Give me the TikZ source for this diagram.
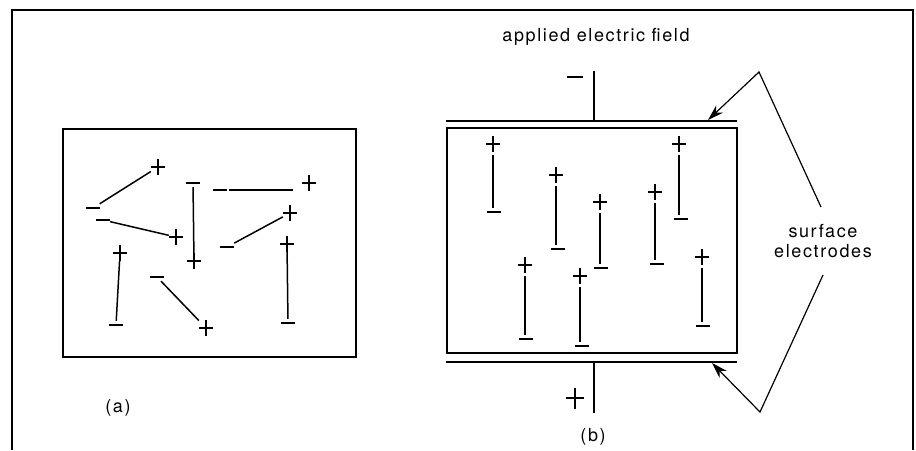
\documentclass[tikz,border=0pt]{standalone}
\usepackage{fontspec}
\setmainfont[LetterSpace=9]{TeX Gyre Heros}
\usetikzlibrary{arrows.meta}
\tikzset{
  pl/.style={inner sep=0pt, minimum width=14pt, minimum height=16pt,
    path picture={\draw[line width=2.4pt] (path picture bounding box.west) -- (path picture bounding box.east)
      (path picture bounding box.north) -- (path picture bounding box.south);}},
  mn/.style={inner sep=0pt, minimum width=14pt, minimum height=8pt,
    path picture={\draw[line width=2.2pt] (path picture bounding box.west) -- (path picture bounding box.east);}},
  dip/.style={line width=1.5pt},
  boxline/.style={line width=2pt},
  lbl/.style={font=\fontsize{18}{22}\selectfont, align=center, inner sep=1pt},
  ptr/.style={line width=1.2pt, -{Stealth[length=16pt,width=10pt]}},
}
\begin{document}
\begin{tikzpicture}[x=1pt,y=-1pt]
\useasboundingbox (0,0) rectangle (916,450);
% outer frame
\draw[line width=2pt] (12,450) -- (12,10) -- (913,10) -- (913,450);
% ---------- (a)
\draw[boxline] (63,129) rectangle (356,357);
\node[pl] (a1p) at (158,167) {}; \node[mn] (a1m) at (93,208) {};
\node[pl] (a2p) at (176,237) {}; \node[mn] (a2m) at (103,220) {};
\node[pl] (a3p) at (194,261) {}; \node[mn] (a3m) at (193,183) {};
\node[pl] (a4p) at (309,183) {}; \node[mn] (a4m) at (220,190) {};
\node[pl] (a5p) at (290,213) {}; \node[mn] (a5m) at (227,247) {};
\node[pl] (a6p) at (287,244) {}; \node[mn] (a6m) at (288,323) {};
\node[pl] (a7p) at (120,253) {}; \node[mn] (a7m) at (116,325) {};
\node[pl] (a8p) at (206,328) {}; \node[mn] (a8m) at (157,277) {};
\draw[dip] (a1m) -- (a1p);
\draw[dip] (a2m) -- (a2p);
\draw[dip] (a3m) -- (a3p);
\draw[dip, shorten <=2pt, shorten >=9pt] (a4m.east) -- (a4m.east -| a4p.west);
\draw[dip] (a5m) -- (a5p);
\draw[dip] (a6p) -- (a6m);
\draw[dip] (a7p) -- (a7m);
\draw[dip] (a8m) -- (a8p);
\node[lbl] (la) at (118,408) {(a)};
% ---------- (b)
\node[lbl] (title) at (596,37) {applied electric field};
\draw[boxline] (447,128) rectangle (737,353);
\coordinate (etl) at (446,121); \coordinate (etr) at (737,121);
\coordinate (ebl) at (446,362); \coordinate (ebr) at (737,362);
\draw[boxline] (etl) -- (etr);
\draw[boxline] (ebl) -- (ebr);
\coordinate (wt) at (594,71); \coordinate (wtb) at (594,121);
\coordinate (wb) at (594,413); \coordinate (wbt) at (594,362);
\draw[line width=1.6pt] (wt) -- (wtb);
\draw[line width=1.6pt] (wbt) -- (wb);
\node[mn, minimum width=16pt] (tm) at (575,77) {};
\node[pl, minimum width=18pt, minimum height=21pt] (bp) at (575,398) {};
\node[pl] (b1p) at (493,144) {}; \node[mn] (b1m) at (494,212) {};
\node[pl] (b2p) at (556,175) {}; \node[mn] (b2m) at (558,249) {};
\node[pl] (b3p) at (600,202) {}; \node[mn] (b3m) at (601,268) {};
\node[pl] (b4p) at (655,192) {}; \node[mn] (b4m) at (657,264) {};
\node[pl] (b5p) at (679,144) {}; \node[mn] (b5m) at (681,219) {};
\node[pl] (b6p) at (525,265) {}; \node[mn] (b6m) at (526,339) {};
\node[pl] (b7p) at (580,276) {}; \node[mn] (b7m) at (582,346) {};
\node[pl] (b8p) at (702,257) {}; \node[mn] (b8m) at (703,326) {};
\foreach \i in {1,...,8} {
  \draw[dip, shorten <=3pt] (b\i p.south) -- (b\i p.south |- b\i m.north);
}
\node[lbl] (lb) at (593,437) {(b)};
% surface electrodes
\node[lbl] (se) at (823,241) {surface\\[-2pt]electrodes};
\coordinate (apt) at (759,72);
\coordinate (apb) at (760,412);
\coordinate (tt) at (708,120);
\coordinate (tb) at (712,363);
\draw[ptr] (821,207) -- (apt) -- (tt);
\draw[ptr] (823,275) -- (apb) -- (tb);
\end{tikzpicture}
\end{document}
